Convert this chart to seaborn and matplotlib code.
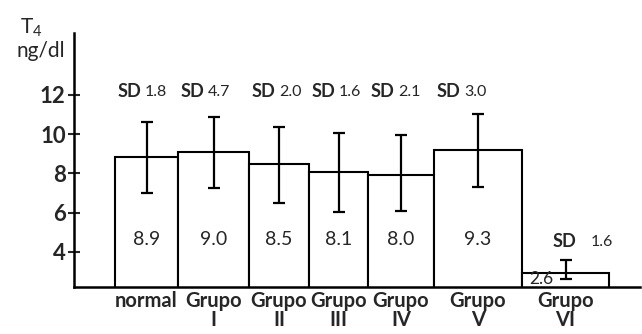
import numpy as np
import pandas as pd
import matplotlib
matplotlib.use('Agg')
import matplotlib.pyplot as plt
import seaborn as sns

# values
groups = ['normal', 'Grupo\nI', 'Grupo\nII', 'Grupo\nIII', 'Grupo\nIV', 'Grupo\nV', 'Grupo\nVI']
means = [8.84, 9.09, 8.48, 8.07, 7.92, 9.19, 2.92]
mean_labels = ['8.9', '9.0', '8.5', '8.1', '8.0', '9.3', '2.6']
err_top = [10.62, 10.88, 10.37, 10.06, 9.96, 11.03, 3.58]
err_bottom = [7.0, 7.26, 6.49, 6.03, 6.08, 7.31, 2.61]
sd_labels = ['1.8', '4.7', '2.0', '1.6', '2.1', '3.0', '1.6']


def main():
    sns.set_style('white')
    plt.rcParams['font.family'] = ['Lato', 'DejaVu Sans']
    plt.rcParams['mathtext.default'] = 'regular'

    df = pd.DataFrame({'group': groups, 'mean': means})

    fig = plt.figure(figsize=(6.42, 3.34), dpi=100)
    ax = fig.add_axes([0.1153, 0.1407, 0.8816, 0.7605])

    sns.barplot(data=df, x='group', y='mean', color='white', edgecolor='black',
                linewidth=1.5, width=1.0, errorbar=None, saturation=1, ax=ax)

    # bars in the original are not all equally wide
    bar_px = np.array([63, 71, 60, 59, 66, 88, 87], dtype=float)
    w = bar_px / bar_px.sum() * len(groups)
    left = -0.5 + np.concatenate([[0], np.cumsum(w)[:-1]])
    for p, l, ww in zip(ax.patches, left, w):
        p.set_x(l)
        p.set_width(ww)
    centers = left + w / 2

    top = np.array(err_top)
    bot = np.array(err_bottom)
    ax.errorbar(centers, (top + bot) / 2, yerr=(top - bot) / 2, fmt='none',
                ecolor='black', elinewidth=1.6, capsize=4.5, capthick=1.6)

    n = len(groups)
    for i in range(n):
        if i < n - 1:
            sd = ax.annotate('SD', xy=(left[i], 12.2), xytext=(1.5, 0),
                             textcoords='offset points', ha='left', va='center',
                             fontsize=13, fontweight='bold')
            ax.annotate(sd_labels[i], xy=(1, 0.45), xycoords=sd, xytext=(3, 0),
                        textcoords='offset points', ha='left', va='center',
                        fontsize=11.5)
            ax.text(centers[i], 4.6, mean_labels[i], ha='center', va='center',
                    fontsize=14)
        else:
            sd = ax.annotate('SD', xy=(centers[i], err_top[i] + 0.95), xytext=(-9, 0),
                             textcoords='offset points', ha='left', va='center',
                             fontsize=13, fontweight='bold')
            ax.annotate(sd_labels[i], xy=(1, 0.45), xycoords=sd, xytext=(10, 0),
                        textcoords='offset points', ha='left', va='center',
                        fontsize=11.5)
            ax.annotate(mean_labels[i], xy=(left[i], 2.62), xytext=(5, 0),
                        textcoords='offset points', ha='left', va='center',
                        fontsize=12.5)

    ax.set_xlim(-1.081, 6.939)
    ax.set_ylim(2.2, 15.16)
    ax.set_yticks([4, 6, 8, 10, 12])
    ax.set_xticks(centers, groups)
    ax.set_xlabel('')
    ax.set_ylabel('')

    for s in ['top', 'right']:
        ax.spines[s].set_visible(False)
    for s in ['left', 'bottom']:
        ax.spines[s].set_linewidth(1.8)
        ax.spines[s].set_color('black')

    ax.tick_params(axis='y', direction='inout', length=8, width=1.5, pad=2,
                   labelsize=16, left=True)
    ax.tick_params(axis='x', length=0, pad=3, labelsize=14.5)
    for t in ax.get_yticklabels():
        t.set_fontweight('bold')
    for t in ax.get_xticklabels():
        t.set_fontweight('bold')
        t.set_linespacing(0.9)

    fig.text(31 / 642, 1 - 28 / 334, 'T$_4$', ha='center', va='center', fontsize=15)
    fig.text(41 / 642, 1 - 51 / 334, 'ng/dl', ha='center', va='center', fontsize=15)

    plt.savefig('out.png', dpi=100, facecolor='white')
    plt.close()


if __name__ == "__main__":
    main()
